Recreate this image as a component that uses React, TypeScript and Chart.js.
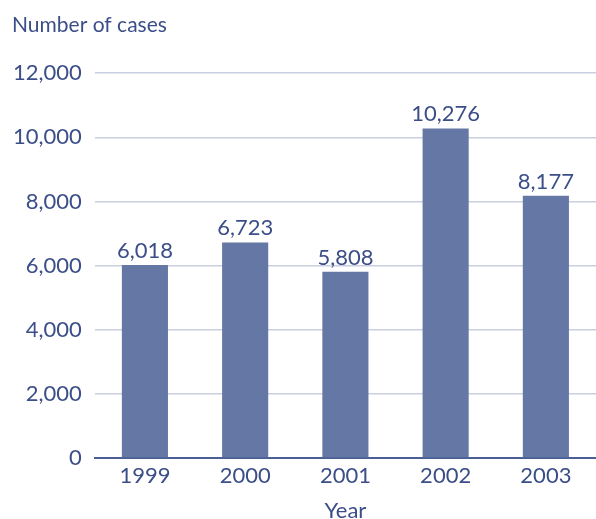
import React, { useEffect, useRef } from "react";
import { Chart, registerables } from "chart.js";

Chart.register(...registerables);

const years = ["1999", "2000", "2001", "2002", "2003"];
const cases = [6018, 6723, 5808, 10276, 8177];
const yTicks = [0, 2000, 4000, 6000, 8000, 10000, 12000];

const TEXT = "#3B4E88";
const BAR = "#6577A4";
const GRID = "#C9CFE1";
const AXIS = "#4B5F97";
const FONT = "Lato, 'Open Sans', sans-serif";

const fmt = (v: number) => v.toLocaleString("en-US");

const valueLabels = {
  id: "valueLabels",
  afterDatasetsDraw(chart: any) {
    const ctx = chart.ctx;
    const meta = chart.getDatasetMeta(0);
    ctx.save();
    ctx.font = `22px ${FONT}`;
    ctx.fillStyle = TEXT;
    ctx.textAlign = "center";
    ctx.textBaseline = "alphabetic";
    meta.data.forEach((el: any, i: number) => {
      ctx.fillText(fmt(cases[i]), el.x, el.y - 7);
    });
    ctx.restore();
  },
};

export default function App() {
  const ref = useRef<HTMLCanvasElement | null>(null);
  useEffect(() => {
    document.body.style.margin = "0";
    const chart = new Chart(ref.current!, {
      type: "bar",
      data: {
        labels: years,
        datasets: [
          {
            data: cases,
            backgroundColor: BAR,
            barPercentage: 0.46,
            categoryPercentage: 1,
          },
        ],
      },
      options: {
        animation: false,
        responsive: false,
        layout: { padding: { left: 12, right: 0, top: 6, bottom: 0 } },
        plugins: {
          legend: { display: false },
          tooltip: { enabled: false },
          title: {
            display: true,
            text: "Number of cases",
            align: "start",
            color: TEXT,
            font: { family: FONT, size: 21, weight: "normal" },
            padding: { top: 7, bottom: 35 },
          },
        },
        scales: {
          x: {
            grid: { display: false, drawTicks: false },
            border: { display: true, color: AXIS, width: 2 },
            afterFit: (axis: any) => {
              axis.height = 61;
            },
            ticks: {
              color: TEXT,
              font: { family: FONT, size: 22, lineHeight: 1 },
              padding: 7,
            },
            title: {
              display: true,
              text: "Year",
              color: TEXT,
              font: { family: FONT, size: 22, lineHeight: 1 },
              padding: { top: 0, bottom: -3 },
            },
          },
          y: {
            min: 0,
            max: 12000,
            afterBuildTicks: (axis: any) => {
              axis.ticks = yTicks.map((v) => ({ value: v }));
            },
            afterFit: (axis: any) => {
              axis.width -= 12;
            },
            border: { display: false },
            grid: {
              color: GRID,
              lineWidth: 1.5,
              drawTicks: false,
            },
            ticks: {
              color: TEXT,
              font: { family: FONT, size: 22 },
              padding: 13,
              callback: (v: any) => fmt(Number(v)),
            },
          },
        },
      },
      plugins: [valueLabels],
    } as any);
    return () => chart.destroy();
  }, []);
  return (
    <div style={{ width: 596, height: 519 }}>
      <canvas ref={ref} width={596} height={519} />
    </div>
  );
}
